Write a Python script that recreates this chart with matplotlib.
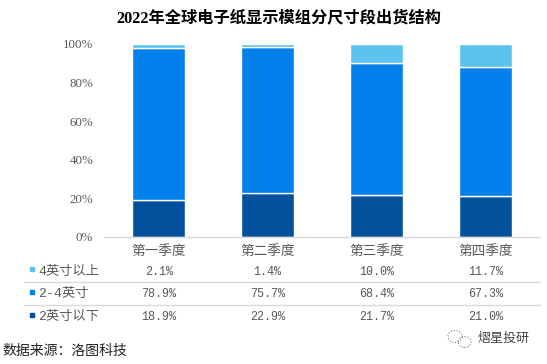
import numpy as np
from matplotlib import pyplot as plt
from matplotlib.patches import Ellipse, Rectangle
from matplotlib.lines import Line2D
from matplotlib.transforms import blended_transform_factory

plt.rcParams['font.family'] = ['Liberation Serif', 'Noto Sans CJK SC', 'DejaVu Sans']

W, H = 547, 364

quarters = ['第一季度', '第二季度', '第三季度', '第四季度']
small = [18.9, 22.9, 21.7, 21.0]
mid = [78.9, 75.7, 68.4, 67.3]
large = [2.1, 1.4, 10.0, 11.7]
series_names = ['4英寸以上', '2-4英寸', '2英寸以下']
colors = ['#5bc3f0', '#0280ec', '#03509c']
yticks = [0, 20, 40, 60, 80, 100]
table_font = ['Liberation Mono', 'Noto Sans CJK SC']


def fx(px):
    return px / W


def fy(py):
    return 1 - py / H


fig = plt.figure(figsize=(W / 100, H / 100), dpi=100)
ax = fig.add_axes([fx(104.4), fy(236.7), (539.6 - 104.4) / W, 192.7 / H])

pos = np.arange(len(quarters))
small_a = np.array(small)
mid_a = np.array(mid)
large_a = np.array(large)
ax.bar(pos, small_a, 0.485, color=colors[2], edgecolor='white', linewidth=1)
ax.bar(pos, mid_a, 0.485, bottom=small_a, color=colors[1], edgecolor='white', linewidth=1)
ax.bar(pos, large_a, 0.485, bottom=small_a + mid_a, color=colors[0], edgecolor='white', linewidth=1)

ax.set_xlim(-0.5, 3.5)
ax.set_ylim(0, 100)
ax.set_yticks(yticks)
ax.set_yticklabels([str(v) + '%' for v in yticks], fontsize=9.3, color='#595959')
ax.set_xticks(pos)
ax.set_xticklabels(quarters, fontsize=9.8, color='#595959')
ax.tick_params(axis='y', length=0, pad=8)
ax.tick_params(axis='x', length=0, pad=6)
for s in ['top', 'right', 'left']:
    ax.spines[s].set_visible(False)
ax.spines['bottom'].set_color('#d9d9d9')
ax.spines['bottom'].set_linewidth(1)

fig.text(fx(279), fy(18), '2022年全球电子纸显示模组分尺寸段出货结构', fontsize=11.7,
         fontweight='bold', color='black', ha='center', va='center')

# table under the chart
trans = blended_transform_factory(ax.transData, fig.transFigure)
rows = [large, mid, small]
row_y = [272, 294, 317]
square_y = [270.7, 294, 316.7]
for name, vals, c, y, sy in zip(series_names, rows, colors, row_y, square_y):
    fig.add_artist(Rectangle((fx(29.5), fy(sy)), 4.5 / W, 4.2 / H, color=c,
                             transform=fig.transFigure))
    fig.text(fx(38), fy(y), name, fontsize=9.5, color='#595959', ha='left', va='center',
             family=table_font)
    for i, v in enumerate(vals):
        fig.text(i, fy(y), '%.1f%%' % v, fontsize=8.5, color='#595959', ha='center',
                 va='center', transform=trans, family=table_font)

for y in [282.4, 305.4]:
    fig.add_artist(Line2D([fx(24), fx(540)], [fy(y), fy(y)], color='#d9d9d9', linewidth=1,
                          transform=fig.transFigure))

fig.text(fx(2.5), fy(351), '数据来源：洛图科技', fontsize=10, color='#222222', ha='left', va='center')

# watermark
fig.add_artist(Ellipse((fx(455), fy(336.5)), 14 / W, 12 / H, fill=False, edgecolor='#777777',
                       linestyle=':', linewidth=0.8, transform=fig.transFigure))
fig.add_artist(Ellipse((fx(464.5), fy(342)), 13 / W, 11 / H, fill=False, edgecolor='#777777',
                       linestyle=':', linewidth=0.8, transform=fig.transFigure))
fig.text(fx(504), fy(339), '熠星投研', fontsize=9.4, color='#444444', ha='center', va='center')

plt.savefig('out.png', dpi=100)
